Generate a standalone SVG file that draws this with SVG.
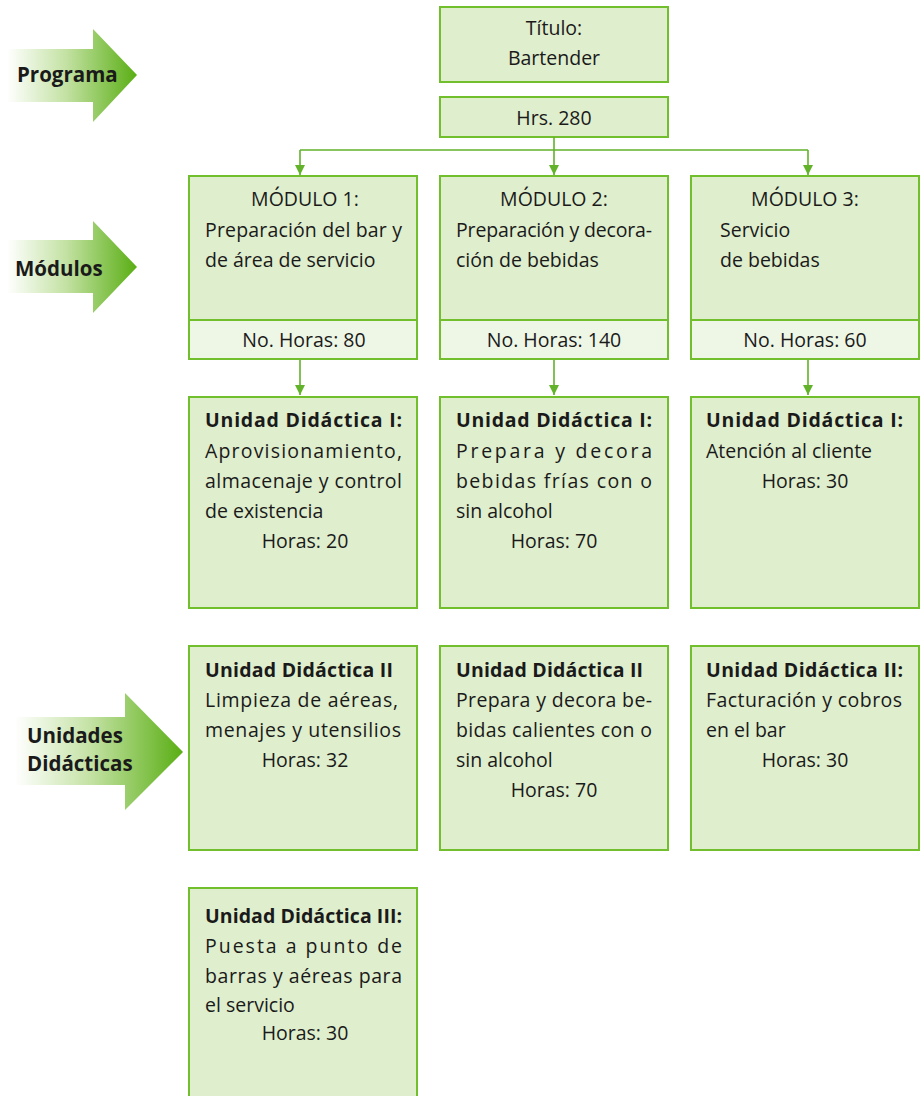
<svg xmlns="http://www.w3.org/2000/svg" width="921" height="1096" viewBox="0 0 921 1096">
<defs>
<linearGradient id="ag" x1="0" y1="0" x2="1" y2="0">
<stop offset="0" stop-color="#ffffff"/>
<stop offset="0.45" stop-color="#c4e2a4"/>
<stop offset="1" stop-color="#5aae14"/>
</linearGradient>
<marker id="ah" viewBox="0 0 10 10" refX="10" refY="5" markerWidth="10" markerHeight="10" markerUnits="userSpaceOnUse" orient="auto">
<path d="M0,0 L10,5 L0,10 z" fill="#62b22a"/>
</marker>
<style>
.box{fill:#dfeecd;stroke:#72bf2e;stroke-width:2}
.lt{fill:#eef6e5;stroke:#72bf2e;stroke-width:2}
.t{font-family:"Open Sans","Liberation Sans",Arial,sans-serif;font-size:19.5px;fill:#1a1a1a}
.c{text-anchor:middle}
.b{font-weight:bold}
.lab{font-family:"Open Sans","Liberation Sans",Arial,sans-serif;font-size:20.5px;font-weight:bold;fill:#1a1a1a}
.ln{stroke:#62b22a;stroke-width:1.6;fill:none}
</style>
</defs>
<g id="arrow-programa">
<path d="M7,49 H93 V29 L137,75 L93,122 V102 H7 Z" fill="url(#ag)"/>
<text class="lab" x="17" y="82">Programa</text>
</g>
<g id="arrow-modulos">
<path d="M7,240 H93 V221 L137,267 L93,313 V293 H7 Z" fill="url(#ag)"/>
<text class="lab" x="15" y="276">Módulos</text>
</g>
<g id="arrow-unidades">
<path d="M15,717 H125 V693 L183,752 L125,810 V785 H15 Z" fill="url(#ag)"/>
<text class="lab" x="27" y="743">Unidades</text>
<text class="lab" x="27" y="771">Didácticas</text>
</g>
<g id="titulo">
<rect class="box" x="440" y="7" width="228" height="75"/>
<text class="t c" x="554" y="35">Título:</text>
<text class="t c" x="554" y="65">Bartender</text>
</g>
<g id="horas">
<rect class="box" x="440" y="97" width="228" height="40"/>
<text class="t c" x="554" y="125">Hrs. 280</text>
</g>
<g id="connectors">
<path class="ln" d="M554,137 V150 M300,150 H808"/>
<path class="ln" d="M300,150 V175" marker-end="url(#ah)"/>
<path class="ln" d="M554,150 V175" marker-end="url(#ah)"/>
<path class="ln" d="M808,150 V175" marker-end="url(#ah)"/>
<path class="ln" d="M300,360 V395" marker-end="url(#ah)"/>
<path class="ln" d="M554,360 V395" marker-end="url(#ah)"/>
<path class="ln" d="M808,360 V395" marker-end="url(#ah)"/>
</g>
<g id="modulo1">
<rect class="box" x="189" y="176" width="228" height="144"/>
<rect class="lt" x="189" y="320" width="228" height="39"/>
<text class="t c" x="305" y="206">MÓDULO 1:</text>
<text class="t" x="205" y="237" textLength="197">Preparación del bar y</text>
<text class="t" x="205" y="267">de área de servicio</text>
<text class="t c" x="304" y="347">No. Horas: 80</text>
</g>
<g id="modulo2">
<rect class="box" x="440" y="176" width="228" height="144"/>
<rect class="lt" x="440" y="320" width="228" height="39"/>
<text class="t c" x="554" y="206">MÓDULO 2:</text>
<text class="t" x="456" y="237" textLength="196">Preparación y decora-</text>
<text class="t" x="456" y="267">ción de bebidas</text>
<text class="t c" x="554" y="347">No. Horas: 140</text>
</g>
<g id="modulo3">
<rect class="box" x="691" y="176" width="228" height="144"/>
<rect class="lt" x="691" y="320" width="228" height="39"/>
<text class="t c" x="805" y="206">MÓDULO 3:</text>
<text class="t" x="720" y="237">Servicio</text>
<text class="t" x="720" y="267">de bebidas</text>
<text class="t c" x="805" y="347">No. Horas: 60</text>
</g>
<g id="ud1-m1">
<rect class="box" x="189" y="397" width="228" height="211"/>
<text class="t b" x="205" y="427" textLength="197">Unidad Didáctica I:</text>
<text class="t" x="205" y="458" textLength="197">Aprovisionamiento,</text>
<text class="t" x="205" y="488" textLength="197">almacenaje y control</text>
<text class="t" x="205" y="518">de existencia</text>
<text class="t c" x="305" y="548">Horas: 20</text>
</g>
<g id="ud1-m2">
<rect class="box" x="440" y="397" width="228" height="211"/>
<text class="t b" x="456" y="427" textLength="196">Unidad Didáctica I:</text>
<text class="t" x="456" y="458" textLength="196">Prepara y decora</text>
<text class="t" x="456" y="488" textLength="196">bebidas frías con o</text>
<text class="t" x="456" y="518">sin alcohol</text>
<text class="t c" x="554" y="548">Horas: 70</text>
</g>
<g id="ud1-m3">
<rect class="box" x="691" y="397" width="228" height="211"/>
<text class="t b" x="706" y="427" textLength="197">Unidad Didáctica I:</text>
<text class="t" x="706" y="458">Atención al cliente</text>
<text class="t c" x="805" y="488">Horas: 30</text>
</g>
<g id="ud2-m1">
<rect class="box" x="189" y="646" width="228" height="204"/>
<text class="t b" x="205" y="677" textLength="188">Unidad Didáctica II</text>
<text class="t" x="205" y="707" textLength="193">Limpieza de aéreas,</text>
<text class="t" x="205" y="737" textLength="196">menajes y utensilios</text>
<text class="t c" x="305" y="767">Horas: 32</text>
</g>
<g id="ud2-m2">
<rect class="box" x="440" y="646" width="228" height="204"/>
<text class="t b" x="456" y="677" textLength="187">Unidad Didáctica II</text>
<text class="t" x="456" y="707" textLength="196">Prepara y decora be-</text>
<text class="t" x="456" y="737" textLength="196">bidas calientes con o</text>
<text class="t" x="456" y="767">sin alcohol</text>
<text class="t c" x="554" y="797">Horas: 70</text>
</g>
<g id="ud2-m3">
<rect class="box" x="691" y="646" width="228" height="204"/>
<text class="t b" x="706" y="677" textLength="197">Unidad Didáctica II:</text>
<text class="t" x="706" y="707" textLength="196">Facturación y cobros</text>
<text class="t" x="706" y="737">en el bar</text>
<text class="t c" x="805" y="767">Horas: 30</text>
</g>
<g id="ud3-m1">
<rect class="box" x="189" y="888" width="228" height="220"/>
<text class="t b" x="205" y="923" textLength="197">Unidad Didáctica III:</text>
<text class="t" x="205" y="953" textLength="197">Puesta a punto de</text>
<text class="t" x="205" y="983" textLength="197">barras y aéreas para</text>
<text class="t" x="205" y="1012">el servicio</text>
<text class="t c" x="305" y="1040">Horas: 30</text>
</g>
</svg>
